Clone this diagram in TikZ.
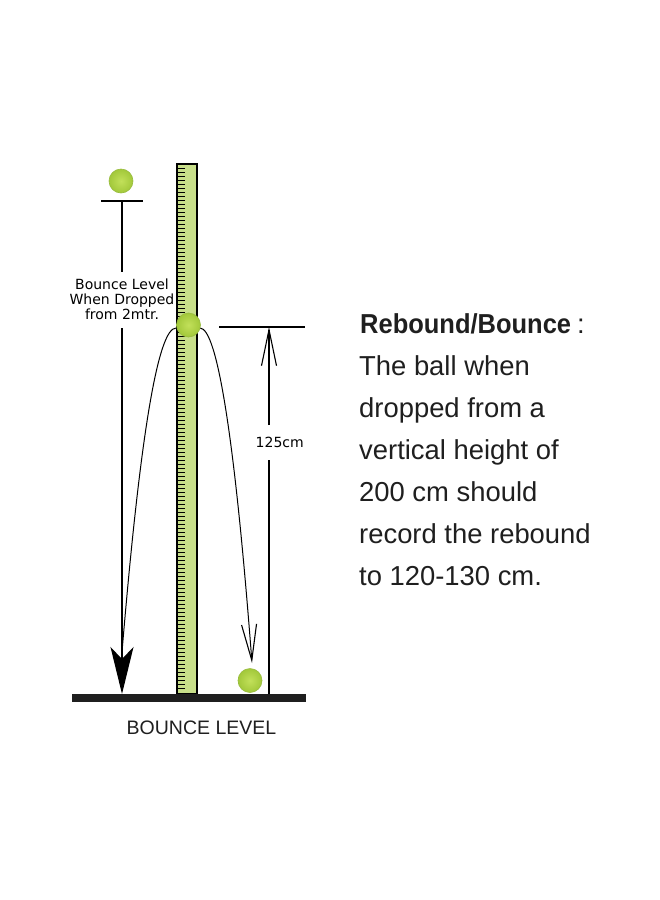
\documentclass[tikz,border=0pt]{standalone}
\usepackage{fontspec}
\usepackage{graphicx}
\usetikzlibrary{arrows.meta}
\newfontfamily\labfont{DejaVu Sans}
\newfontfamily\txtfont{Liberation Sans}
\definecolor{rulergreen}{HTML}{C8DF8A}
\definecolor{ballin}{HTML}{C2E05A}
\definecolor{ballout}{HTML}{A2C83A}
\definecolor{ballrim}{HTML}{98BC3E}
\begin{document}
\begin{tikzpicture}[x=1pt,y=-1pt,
  ball/.style={circle,minimum size=24pt,inner sep=0pt,draw=ballrim,line width=0.6pt,inner color=ballin,outer color=ballout},
  thinline/.style={line width=1.1pt,black},
  smalllab/.style={inner sep=0pt,font=\labfont\fontsize{14}{15}\selectfont},
  bodytxt/.style={inner sep=0pt,anchor=base west,font=\txtfont\fontsize{27.4}{32}\selectfont,text=black!88},
  openhead/.style={-{Straight Barb[length=36pt,width=15pt,line width=1.1pt]}}
]
\useasboundingbox (0,0) rectangle (660,900);
\fill[white] (0,0) rectangle (660,900);

% ruler
\draw[fill=rulergreen,line width=1.1pt] (177,164) rectangle (197,694);
\foreach \yy in {168,172,...,690} \draw[line width=1pt] (177,\yy) -- (184.5,\yy);

% ground
\fill[black!88] (72,694) rectangle (306,702);
\node[inner sep=0pt,anchor=base,font=\txtfont\fontsize{19.5}{22}\selectfont,text=black!88] (ground) at (201.5,734) {BOUNCE LEVEL};

% arcs (drawn below the ball)
\coordinate (al0) at (176,328);
\coordinate (al3) at (122,652);
\coordinate (ar0) at (200,328);
\coordinate (ar3) at (252,663);
\draw[line width=1pt] (al0) .. controls (158,328) and (140,436) .. (al3);
\draw[line width=1pt,openhead] (ar0) .. controls (217.3,328) and (235,440) .. (ar3);

% balls
\node[ball] (b1) at (121,181) {};
\node[ball] (b2) at (188.5,325) {};
\node[ball] (b3) at (250,680.5) {};

% drop line
\coordinate (dl1) at (101,201);
\coordinate (dl2) at (143,201);
\coordinate (dtop) at (122,201);
\coordinate (dtip) at (122,694);
\draw[thinline] (dl1) -- (dl2);
\node[smalllab,align=center] (droplab) at (122,299.5) {Bounce Level\\When Dropped\\from 2mtr.};
\draw[thinline] (dtop) -- (122,272);
\draw[thinline,-{Stealth[length=47pt,width=23pt,inset=12pt]}] (122,328) -- (dtip);

% rebound dimension
\coordinate (rl1) at (219,327);
\coordinate (rl2) at (305,327);
\coordinate (rtop) at (269,327);
\coordinate (rbot) at (269,694);
\draw[thinline] (rl1) -- (rl2);
\node[smalllab,anchor=base west] (reblab) at (255.5,447) {125cm};
\draw[thinline,openhead] (269,425) -- (rtop);
\draw[thinline] (269,460) -- (rbot);

% description
\node[bodytxt] (t0) at (360,333) {\scalebox{0.93}[1]{\bfseries Rebound/Bounce}\hspace{6pt}:};
\node[bodytxt] (t1) at (359,375) {The ball when};
\node[bodytxt] (t2) at (359,417) {dropped from a};
\node[bodytxt] (t3) at (359,459) {vertical height of};
\node[bodytxt] (t4) at (359,501) {200 cm should};
\node[bodytxt] (t5) at (359,543) {record the rebound};
\node[bodytxt] (t6) at (359,585) {to 120-130 cm.};
\end{tikzpicture}
\end{document}
